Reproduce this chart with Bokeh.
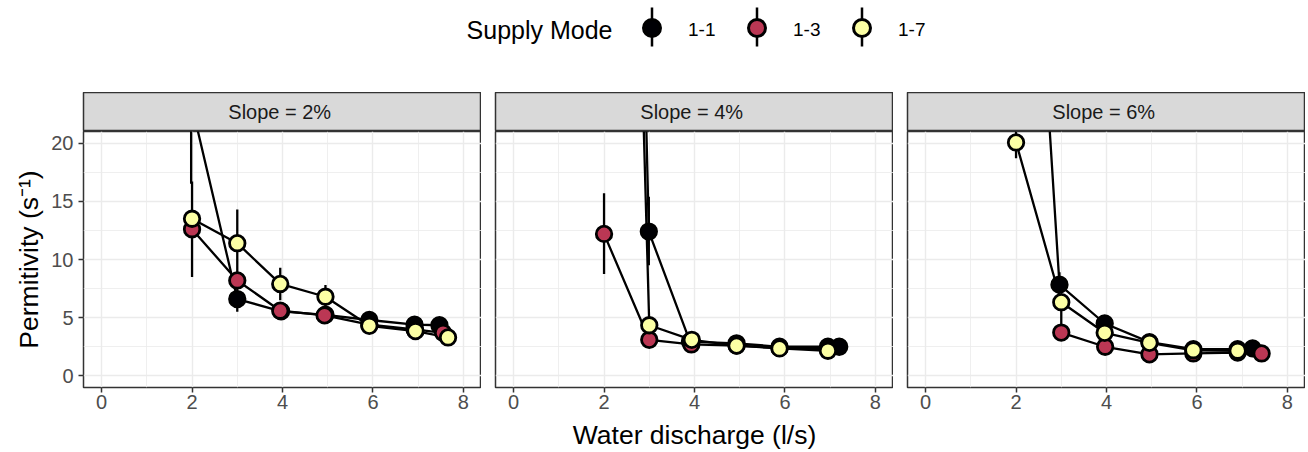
from bokeh.plotting import figure
from bokeh.models import Range1d, FixedTicker
from bokeh.layouts import column, row
from bokeh.embed import file_html
from bokeh.resources import INLINE
from bokeh.core.properties import value

FONT = value("Liberation Sans")

modes = ["1-1", "1-3", "1-7"]
mode_colors = ["#000004", "#BB3754", "#FCFFA4"]
slopes = ["2%", "4%", "6%"]
x_ticks = [0, 2, 4, 6, 8]
y_ticks = [0, 5, 10, 15, 20]

# ---- Slope 2% ----
q2_m11 = [1.98, 3.0, 3.97, 4.95, 5.92, 6.92, 7.47]
p2_m11 = [23.5, 6.6, 5.55, 5.25, 4.8, 4.4, 4.35]
lo2_m11 = [16.5, 5.5, 5.2, 4.9, 4.5, 4.1, 4.0]
hi2_m11 = [30.5, 7.7, 5.9, 5.6, 5.1, 4.7, 4.7]

q2_m13 = [2.0, 3.0, 3.95, 4.93, 5.92, 6.92, 7.55]
p2_m13 = [12.6, 8.2, 5.6, 5.2, 4.4, 4.0, 3.7]
lo2_m13 = [8.5, 7.6, 5.2, 4.9, 4.1, 3.7, 3.4]
hi2_m13 = [16.7, 8.8, 6.0, 5.5, 4.7, 4.3, 4.0]

q2_m17 = [2.0, 3.0, 3.95, 4.95, 5.92, 6.94, 7.66]
p2_m17 = [13.5, 11.4, 7.9, 6.8, 4.3, 3.85, 3.3]
lo2_m17 = [12.8, 8.5, 6.5, 5.8, 4.0, 3.55, 3.0]
hi2_m17 = [14.2, 14.3, 9.3, 7.8, 4.6, 4.15, 3.6]

# ---- Slope 4% ----
q4_m11 = [2.85, 2.99, 3.9, 4.93, 5.88, 6.95, 7.2]
p4_m11 = [35.0, 12.4, 2.95, 2.8, 2.5, 2.5, 2.5]
lo4_m11 = [28.0, 9.5, 2.65, 2.5, 2.2, 2.2, 2.2]
hi4_m11 = [42.0, 15.4, 3.25, 3.1, 2.8, 2.8, 2.8]

q4_m13 = [2.0, 3.0, 3.93, 4.93, 5.88, 6.95]
p4_m13 = [12.2, 3.1, 2.7, 2.6, 2.4, 2.3]
lo4_m13 = [8.75, 2.8, 2.4, 2.3, 2.1, 2.0]
hi4_m13 = [15.7, 3.4, 3.0, 2.9, 2.7, 2.6]

q4_m17 = [2.8, 3.0, 3.94, 4.93, 5.88, 6.95]
p4_m17 = [32.0, 4.35, 3.1, 2.6, 2.36, 2.16]
lo4_m17 = [28.0, 4.05, 2.8, 2.3, 2.06, 1.86]
hi4_m17 = [36.0, 4.65, 3.4, 2.9, 2.66, 2.46]

# ---- Slope 6% ----
q6_m11 = [2.6, 2.96, 3.96, 4.95, 5.92, 6.9, 7.23]
p6_m11 = [30.0, 7.84, 4.5, 2.9, 2.3, 2.3, 2.36]
lo6_m11 = [25.0, 7.2, 4.2, 2.6, 2.0, 2.0, 2.06]
hi6_m11 = [35.0, 8.9, 4.8, 3.2, 2.6, 2.6, 2.66]

q6_m13 = [3.0, 3.97, 4.95, 5.92, 6.9, 7.43]
p6_m13 = [3.72, 2.5, 1.85, 1.93, 2.0, 1.93]
lo6_m13 = [3.3, 2.2, 1.55, 1.63, 1.7, 1.63]
hi6_m13 = [6.0, 2.8, 2.15, 2.23, 2.3, 2.23]

q6_m17 = [2.0, 3.0, 3.96, 4.95, 5.92, 6.9]
p6_m17 = [20.06, 6.33, 3.7, 2.84, 2.2, 2.16]
lo6_m17 = [18.7, 6.0, 3.4, 2.55, 1.9, 1.86]
hi6_m17 = [21.4, 6.66, 4.0, 3.1, 2.5, 2.46]

panels = [
    [(q2_m11, p2_m11, lo2_m11, hi2_m11), (q2_m13, p2_m13, lo2_m13, hi2_m13), (q2_m17, p2_m17, lo2_m17, hi2_m17)],
    [(q4_m11, p4_m11, lo4_m11, hi4_m11), (q4_m13, p4_m13, lo4_m13, hi4_m13), (q4_m17, p4_m17, lo4_m17, hi4_m17)],
    [(q6_m11, p6_m11, lo6_m11, hi6_m11), (q6_m13, p6_m13, lo6_m13, hi6_m13), (q6_m17, p6_m17, lo6_m17, hi6_m17)],
]

FRAME_W = 398
FRAME_H = 256
STRIP_H = 39
LEFT = 83
GAP = 14
BOTTOM = 65
GRID_C = "#EBEBEB"
DARK = "#333333"
TICK_TXT = "#4D4D4D"


def make_strip(label, left):
    s = figure(frame_width=FRAME_W, frame_height=STRIP_H, min_border_left=left,
               min_border_right=0, min_border_top=0, min_border_bottom=0,
               x_range=Range1d(0, 1), y_range=Range1d(0, 1),
               x_axis_location=None, y_axis_location=None,
               output_backend="svg", toolbar_location=None)
    s.grid.visible = False
    s.background_fill_color = "#D9D9D9"
    s.border_fill_color = "white"
    s.outline_line_color = DARK
    s.outline_line_width = 1.5
    s.text(x=[0.5], y=[0.5], text=[label], text_align="center", text_baseline="middle",
           text_font=FONT, text_font_size="20px", text_color="#1A1A1A")
    return s


def make_panel(series, left, show_y, xlabel):
    p = figure(frame_width=FRAME_W, frame_height=FRAME_H, min_border_left=left,
               min_border_right=0, min_border_top=0, min_border_bottom=BOTTOM,
               x_range=Range1d(-0.4, 8.4), y_range=Range1d(-1.0, 21.0),
               y_axis_location="left" if show_y else None,
               output_backend="svg", toolbar_location=None)
    p.background_fill_color = "white"
    p.border_fill_color = "white"
    p.outline_line_color = DARK
    p.outline_line_width = 1.5

    xt = FixedTicker(ticks=x_ticks, minor_ticks=[1, 3, 5, 7])
    yt = FixedTicker(ticks=y_ticks, minor_ticks=[2.5, 7.5, 12.5, 17.5])
    p.xaxis.ticker = xt
    p.xgrid.ticker = xt
    p.ygrid.ticker = yt
    for g in (p.xgrid, p.ygrid):
        g.grid_line_color = GRID_C
        g.grid_line_width = 1.4
        g.minor_grid_line_color = GRID_C
        g.minor_grid_line_width = 0.8

    axes = [p.xaxis]
    if show_y:
        p.yaxis.ticker = yt
        axes.append(p.yaxis)
    for ax in axes:
        ax.axis_line_color = None
        ax.major_tick_line_color = DARK
        ax.major_tick_line_width = 1.5
        ax.major_tick_out = 5
        ax.major_tick_in = 0
        ax.minor_tick_line_color = None
        ax.major_label_text_font = "Liberation Sans"
        ax.major_label_text_font_size = "20px"
        ax.major_label_text_color = TICK_TXT
        ax.axis_label_text_font = "Liberation Sans"
        ax.axis_label_text_font_size = "26.5px"
        ax.axis_label_text_font_style = "normal"
        ax.axis_label_text_color = "black"
    p.xaxis.major_label_standoff = 2
    if xlabel:
        p.xaxis.axis_label = xlabel
        p.xaxis.axis_label_standoff = 8
    if show_y:
        p.yaxis.axis_label = "Permitivity (s\u207b\u00b9)"
        p.yaxis.major_label_standoff = 5
        p.yaxis.axis_label_standoff = 4

    for (q, perm, lo, hi) in series:
        p.line(q, perm, line_color="black", line_width=2.3)
    for (q, perm, lo, hi) in series:
        p.segment(x0=q, y0=lo, x1=q, y1=hi, line_color="black", line_width=2.3)
    for (q, perm, lo, hi), c in zip(series, mode_colors):
        p.scatter(q, perm, size=15.5, fill_color=c, line_color="black", line_width=2.8)
    return p


# ---- legend figure ----
LEG_W = LEFT + 3 * FRAME_W + 2 * GAP
LEG_H = 92
leg = figure(width=LEG_W, height=LEG_H, min_border=0,
             x_range=Range1d(0, LEG_W), y_range=Range1d(LEG_H, 0),
             x_axis_location=None, y_axis_location=None,
             output_backend="svg", toolbar_location=None)
leg.grid.visible = False
leg.outline_line_color = None
leg.background_fill_color = "white"
leg.border_fill_color = "white"
key_x = [651.5 + 105 * i for i in range(len(modes))]
key_y = [27.5] * len(modes)
leg.segment(x0=key_x, y0=[7] * len(modes), x1=key_x, y1=[46] * len(modes),
            line_color="black", line_width=2.5)
leg.scatter(key_x, key_y, size=17, fill_color=mode_colors, line_color="black", line_width=3)
leg.text(x=[k + 36 for k in key_x], y=[28.5] * len(modes), text=modes, text_baseline="middle",
         text_align="left", text_font=FONT, text_font_size="19px", text_color="black")
leg.text(x=[612], y=[29], text=["Supply Mode"], text_baseline="middle",
         text_align="right", text_font=FONT, text_font_size="25px", text_color="black")

cols = []
for i, (sl, series) in enumerate(zip(slopes, panels)):
    left = LEFT if i == 0 else GAP
    strip = make_strip(f"Slope =  {sl}", left)
    pan = make_panel(series, left, i == 0, "Water discharge (l/s)" if i == 1 else None)
    cols.append(column(strip, pan, spacing=0))

layout = column(leg, row(*cols, spacing=0), spacing=0)

with open("out.html", "w") as f:
    f.write(file_html(layout, INLINE))
